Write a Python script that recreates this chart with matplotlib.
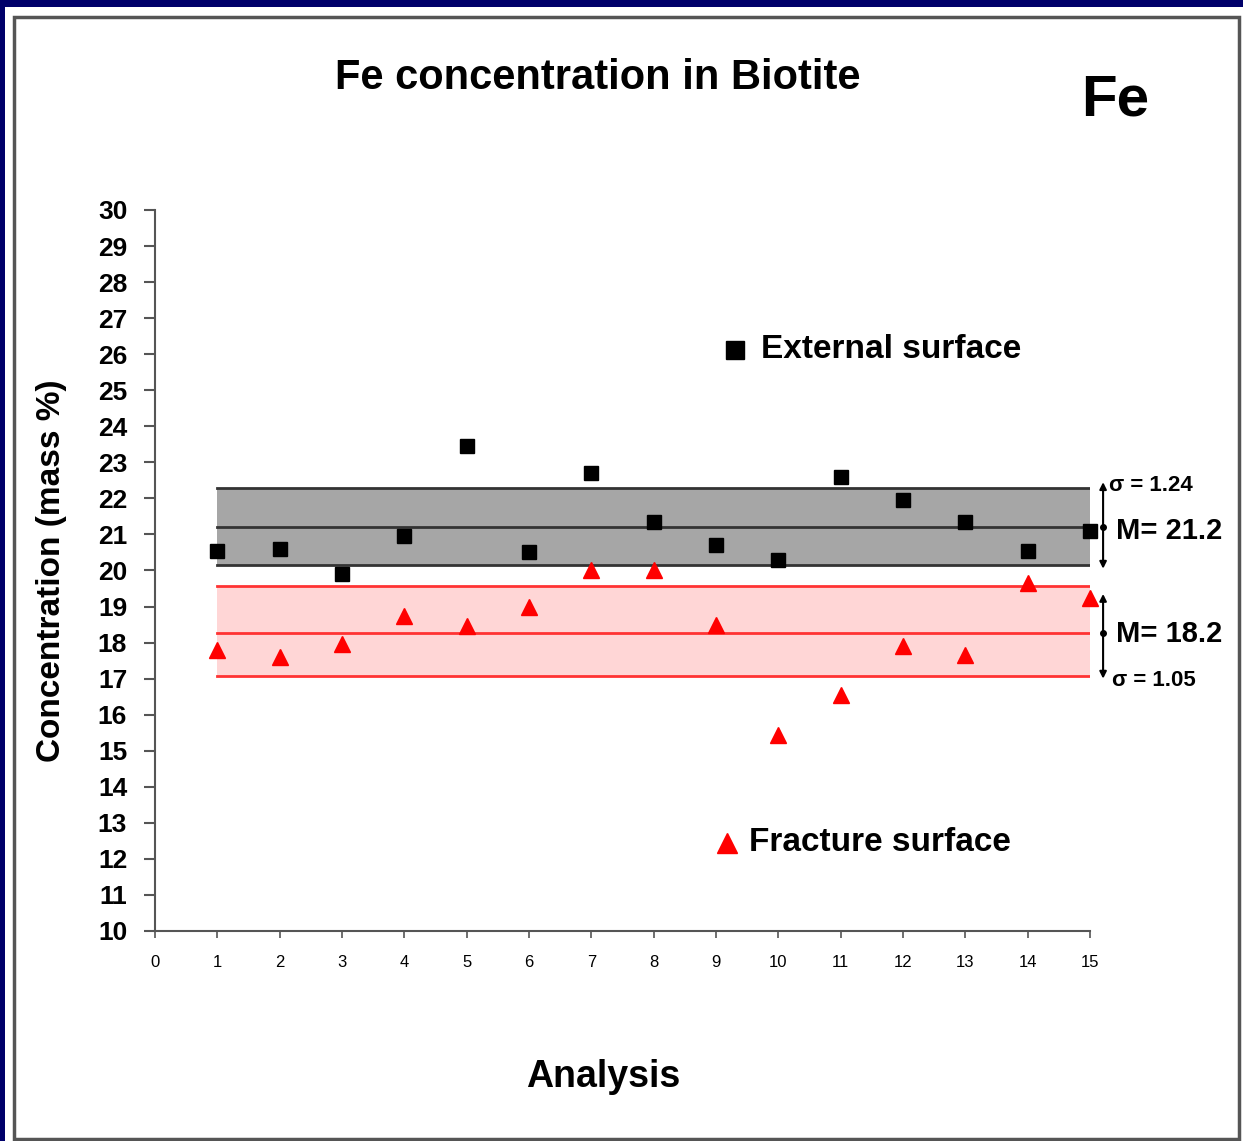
import matplotlib.pyplot as plt
from matplotlib.patches import Rectangle

# Data
analysis = list(range(1, 16))
external = [20.55, 20.6, 19.9, 20.95, 23.45, 20.5, 22.7, 21.35, 20.7, 20.3, 22.6, 21.95, 21.35, 20.55, 21.1]
fracture = [17.8, 17.6, 17.95, 18.75, 18.45, 19.0, 20.0, 20.0, 18.5, 15.45, 16.55, 17.9, 17.65, 19.65, 19.25]

# mean / band edges as drawn
ext_band = [20.15, 21.2, 22.28]
frac_band = [17.07, 18.28, 19.57]
ext_arrow = [20.05, 22.45]
frac_arrow = [17.0, 19.35]

W, H = 1243, 1141
fig = plt.figure(figsize=(W / 100, H / 100), dpi=100)
fig.patch.set_facecolor('#00006a')

# white panel with grey frame
fig.patches.append(Rectangle((5 / W, 0), 1, 1 - 7 / H, transform=fig.transFigure,
                             facecolor='white', edgecolor='none', zorder=-3))
fig.patches.append(Rectangle((14 / W, 2 / H), (1239 - 14) / W, (1139 - 17) / H,
                             transform=fig.transFigure, facecolor='white',
                             edgecolor='#555555', linewidth=2.5, zorder=-2))

ax = fig.add_axes([155 / W, 1 - 931 / H, 935 / W, 721 / H])
ax.set_facecolor('none')
ax.set_xlim(0, 15)
ax.set_ylim(10, 30)
for s in ['top', 'right']:
    ax.spines[s].set_visible(False)
for s in ['left', 'bottom']:
    ax.spines[s].set_color('#555555')
    ax.spines[s].set_linewidth(1.5)

ax.set_yticks(range(10, 31))
ax.set_xticks(range(0, 16))
ax.tick_params(axis='y', length=8, width=1.5, color='#555555', labelsize=19, pad=12)
ax.tick_params(axis='x', length=5, width=1.2, color='#555555', labelsize=12, pad=12)
for lab in ax.get_yticklabels():
    lab.set_fontweight('bold')
    lab.set_family('Liberation Sans')
for lab in ax.get_xticklabels():
    lab.set_family('Liberation Sans')

# bands
x0, x1 = 1, 15
ax.fill_between([x0, x1], ext_band[0], ext_band[2], color='#a6a6a6', zorder=1, lw=0)
for v in ext_band:
    ax.plot([x0, x1], [v, v], color='#333333', lw=2, zorder=2)
ax.fill_between([x0, x1], frac_band[0], frac_band[2], color='#ffd6d6', zorder=1, lw=0)
for v in frac_band:
    ax.plot([x0, x1], [v, v], color='#ff3333', lw=2, zorder=2)

# points
ax.plot(analysis, external, 's', color='black', ms=10, zorder=4, clip_on=False)
ax.plot(analysis, fracture, '^', color='red', ms=11, zorder=4, clip_on=False)

# sigma arrows
xa = 15.21
for lo, hi, m in [(ext_arrow[0], ext_arrow[1], ext_band[1]), (frac_arrow[0], frac_arrow[1], frac_band[1])]:
    ax.annotate('', xy=(xa, lo), xytext=(xa, hi), annotation_clip=False,
                arrowprops=dict(arrowstyle='<|-|>', color='black', lw=1.5,
                                mutation_scale=10, shrinkA=0, shrinkB=0))
    ax.plot([xa], [m], 'o', color='black', ms=4, clip_on=False)

bold = dict(fontweight='bold', family='Liberation Sans', clip_on=False)
ax.text(15.3, 22.35, 'σ = 1.24', fontsize=16, va='center', ha='left', **bold)
ax.text(15.42, 21.1, 'M= 21.2', fontsize=21, va='center', ha='left', **bold)
ax.text(15.42, 18.25, 'M= 18.2', fontsize=21, va='center', ha='left', **bold)
ax.text(15.35, 16.95, 'σ = 1.05', fontsize=16, va='center', ha='left', **bold)

# legend-like labels
ax.plot([9.31], [26.12], 's', color='black', ms=13, clip_on=False)
ax.text(9.72, 26.12, 'External surface', fontsize=24, va='center', ha='left', **bold)
ax.plot([9.18], [12.45], '^', color='red', ms=15, clip_on=False)
ax.text(9.53, 12.45, 'Fracture surface', fontsize=24, va='center', ha='left', **bold)

ax.set_ylabel('Concentration (mass %)', fontsize=24, fontweight='bold',
              family='Liberation Sans', labelpad=22)
fig.text(603 / W, 1 - 1077 / H, 'Analysis', fontsize=27, fontweight='bold',
         family='Liberation Sans', ha='center', va='center')
fig.text(598 / W, 1 - 78 / H, 'Fe concentration in Biotite', fontsize=30,
         fontweight='bold', family='Liberation Sans', ha='center', va='center')
fig.text(1115 / W, 1 - 100 / H, 'Fe', fontsize=42, fontweight='bold',
         family='Liberation Sans', ha='center', va='center')

fig.savefig('out.png', dpi=100, facecolor=fig.get_facecolor())
